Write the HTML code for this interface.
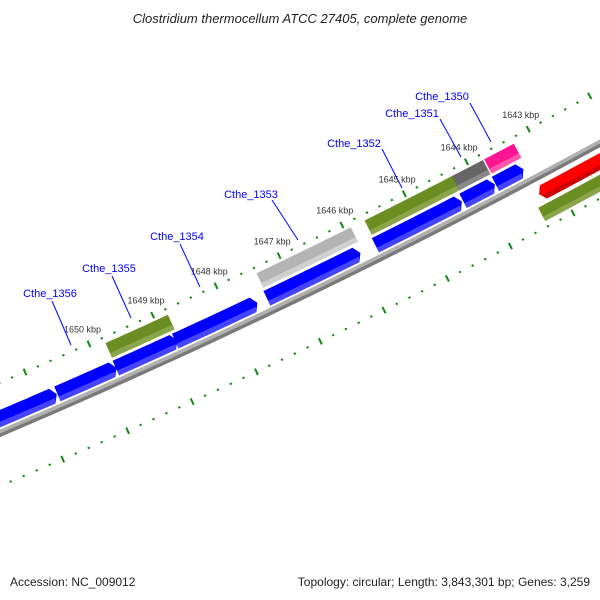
<!DOCTYPE html>
<html><head><meta charset="utf-8"><style>
html,body{margin:0;padding:0;background:#fff}
svg{display:block}
text{font-family:"Liberation Sans",sans-serif}
</style></head><body>
<svg id="map" width="600" height="600" viewBox="0 0 600 600" xmlns="http://www.w3.org/2000/svg">
<rect x="0" y="0" width="600" height="600" fill="#fff"/>
<text x="300" y="23" text-anchor="middle" font-size="13" font-style="italic" fill="#222">Clostridium thermocellum ATCC 27405, complete genome</text>
<g id="ticks"></g>
<g id="features"></g>
<g id="labels">
 <g><text x="50" y="297" text-anchor="middle" font-size="11" fill="#0000ff">Cthe_1356</text><line x1="52" y1="301" x2="71" y2="345" stroke="#0000ff" stroke-width="1"/></g>
 <g><text x="109" y="272" text-anchor="middle" font-size="11" fill="#0000ff">Cthe_1355</text><line x1="112" y1="276" x2="131" y2="318" stroke="#0000ff" stroke-width="1"/></g>
 <g><text x="177" y="240" text-anchor="middle" font-size="11" fill="#0000ff">Cthe_1354</text><line x1="180" y1="244" x2="200" y2="287" stroke="#0000ff" stroke-width="1"/></g>
 <g><text x="251" y="198" text-anchor="middle" font-size="11" fill="#0000ff">Cthe_1353</text><line x1="272" y1="200" x2="298" y2="240" stroke="#0000ff" stroke-width="1"/></g>
 <g><text x="354" y="147" text-anchor="middle" font-size="11" fill="#0000ff">Cthe_1352</text><line x1="382" y1="149" x2="402" y2="188" stroke="#0000ff" stroke-width="1"/></g>
 <g><text x="412" y="117" text-anchor="middle" font-size="11" fill="#0000ff">Cthe_1351</text><line x1="440" y1="119" x2="461" y2="157" stroke="#0000ff" stroke-width="1"/></g>
 <g><text x="442" y="100" text-anchor="middle" font-size="11" fill="#0000ff">Cthe_1350</text><line x1="470" y1="103" x2="491" y2="142" stroke="#0000ff" stroke-width="1"/></g>
</g>
<text x="10" y="586" font-size="12" fill="#222">Accession: NC_009012</text>
<text x="590" y="586" text-anchor="end" font-size="12" fill="#222">Topology: circular; Length: 3,843,301 bp; Genes: 3,259</text>
</svg>
<script>
// ---- data ----
const majorTicksKbp = [1641,1642,1643,1644,1645,1646,1647,1648,1649,1650,1651,1652,1653];
const tickLabelKbp = [1643,1644,1645,1646,1647,1648,1649,1650];
const tickLabelText = ["1643 kbp","1644 kbp","1645 kbp","1646 kbp","1647 kbp","1648 kbp","1649 kbp","1650 kbp"];
const fwdStart = [1651.95,1650.70,1649.79,1648.86,1647.42,1645.70,1644.30,1643.78];
const fwdEnd   = [1650.71,1649.78,1648.83,1647.57,1645.94,1644.32,1643.79,1643.33];
const ring2Start = [1649.78,1647.40,1645.68,1644.28,1643.76];
const ring2End   = [1648.80,1645.90,1644.25,1643.78,1643.28];
const ring2Names = ["cthe-1355","cthe-1353","cthe-1352","cthe-1351","cthe-1350"];
const revStart = [1643.30];
const revEnd   = [1640.8];
const ring4Start = [1643.40];
const ring4End   = [1640.8];

// ---- geometry ----
const CX=-2679, CY=-5876;
function ang(k){return (66.01+(k-1650)*0.588)*Math.PI/180;}
function P(r,k){const a=ang(k);return [CX+r*Math.cos(a),CY+r*Math.sin(a)];}
const NS="http://www.w3.org/2000/svg";
function arcPts(r,k1,k2,n){const o=[];for(let i=0;i<=n;i++){o.push(P(r,k1+(k2-k1)*i/n));}return o;}
function poly(parent,pts,fill){const p=document.createElementNS(NS,"polygon");p.setAttribute("points",pts.map(q=>q[0].toFixed(2)+","+q[1].toFixed(2)).join(" "));p.setAttribute("fill",fill);parent.appendChild(p);return p;}
// shape: r1<r2, from k1 (high) to k2 (low); arrow: 0 none, 1 tip at k2, -1 tip at k1
function shape(r1,r2,k1,k2,arrow,h){
  const rm=(r1+r2)/2;let a=k1,b=k2;
  if(arrow===1)b=k2+h; if(arrow===-1)a=k1-h;
  let pts=arcPts(r1,a,b,10);
  if(arrow===1)pts.push(P(rm,k2));
  pts=pts.concat(arcPts(r2,b,a,10));
  if(arrow===-1)pts.push(P(rm,k1));
  return pts;
}
function feature(parent,name,r1,r2,k1,k2,arrow,c1,c2){
  const g=document.createElementNS(NS,"g");
  
  
  parent.appendChild(g);
  const h=0.07;
  poly(g,shape(r1,r2,k1,k2,arrow,h),c1);
  const rs=r1+(r2-r1)*0.68, rm=(r1+r2)/2;
  // lower strip
  let a=k1,b=k2;
  if(arrow===1)b=k2+h*(1-(rs-rm)/(r2-rm));
  if(arrow===-1)a=k1-h*(1-(rs-rm)/(r2-rm));
  let pts=arcPts(rs,a,b,10);
  if(arrow===1)b=k2+h; if(arrow===-1)a=k1-h;
  pts=pts.concat(arcPts(r2,b,a,10));
  poly(g,pts,c2);
}
const T=document.getElementById("ticks"), F=document.getElementById("features");
// backbone
(function(){const g=document.createElementNS(NS,"g");
 
 
 F.appendChild(g);
 let p=arcPts(6851,1653,1640.5,30).concat(arcPts(6854.5,1640.5,1653,30));poly(g,p,"#b0b0b0");
 p=arcPts(6854.5,1653,1640.5,30).concat(arcPts(6858,1640.5,1653,30));poly(g,p,"#7a7a7a");})();
// ticks
function tickRow(r,name){
  const g=document.createElementNS(NS,"g");
  
  
  T.appendChild(g);
  for(let k=majorTicksKbp[0];k<=majorTicksKbp[majorTicksKbp.length-1]+0.001;k+=0.2){
    const major=majorTicksKbp.some(m=>Math.abs(m-k)<0.01);
    const a=P(r-(major?3.5:1),k), b=P(r+(major?3.5:1),k);
    const l=document.createElementNS(NS,"line");
    
    
    l.setAttribute("x1",a[0]);l.setAttribute("y1",a[1]);l.setAttribute("x2",b[0]);l.setAttribute("y2",b[1]);
    l.setAttribute("stroke","#118811");l.setAttribute("stroke-width",major?2:2.2);
    g.appendChild(l);
  }
}
tickRow(6808,'outer-tick-row');
tickRow(6903,'inner-tick-row');
tickLabelKbp.forEach((k,i)=>{
  const p=P(6792,k);
  const t=document.createElementNS(NS,"text");
  
  
  t.setAttribute("x",p[0]);t.setAttribute("y",p[1]+3);t.setAttribute("text-anchor","middle");
  t.setAttribute("font-size","9");t.setAttribute("fill","#333");
  t.textContent=tickLabelText[i];T.appendChild(t);
});
// forward CDS ring
fwdStart.forEach((s,i)=>feature(F,'forward-gene-'+i,6833,6849,s,fwdEnd[i],1,"#0000ff","#4545ff"));
// upper ring
const ring2C1=["#6b8e23","#b4b4b4","#6b8e23","#666666","#ff1493"];
const ring2C2=["#8aa64a","#d0d0d0","#8aa64a","#888888","#ff55aa"];
ring2Start.forEach((s,i)=>feature(F,'gene-'+ring2Names[i],6814,6830,s,ring2End[i],0,ring2C1[i],ring2C2[i]));
// reverse ring
revStart.forEach((s,i)=>feature(F,'reverse-gene-'+i,6863,6878,s,revEnd[i],-1,"#ff0000","#cc0000"));
ring4Start.forEach((s,i)=>feature(F,'reverse-feature-'+i,6882,6897,s,ring4End[i],0,"#6b8e23","#8aa64a"));
</script>
</body></html>
